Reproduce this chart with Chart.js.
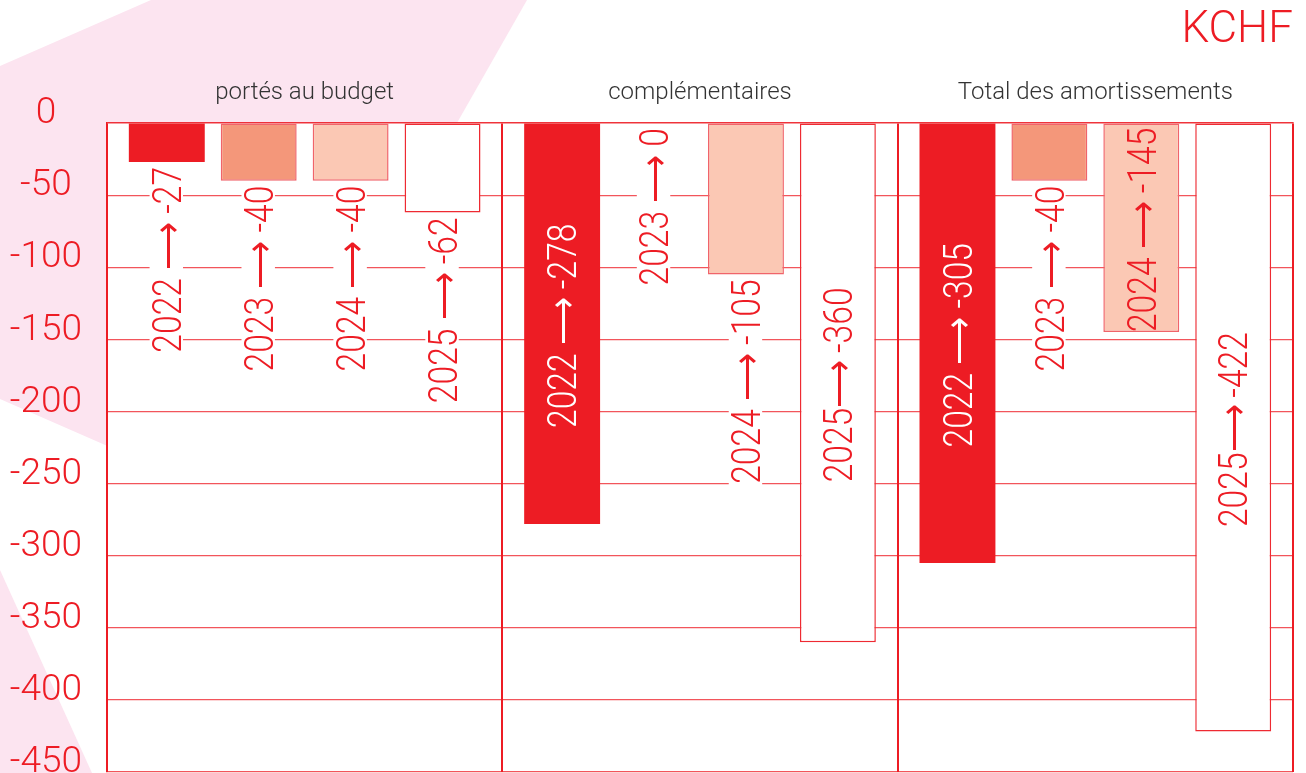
<!DOCTYPE html>
<html>
<head>
<meta charset="utf-8">
<script src="https://cdn.jsdelivr.net/npm/chart.js@4"></script>
<style>
html, body { margin: 0; padding: 0; background: #fff; }
</style>
</head>
<body>
<canvas id="myChart" width="1306" height="773"></canvas>
<script>
// amortissements par année, en KCHF

const groups = ['portés au budget', 'complémentaires', 'Total des amortissements']
const years = ['2022', '2023', '2024', '2025']
const values2022 = [-27, -278, -305]
const values2023 = [-40, 0, -40]
const values2024 = [-40, -105, -145]
const values2025 = [-62, -360, -422]
const yTicks = [0, -50, -100, -150, -200, -250, -300, -350, -400, -450]
const unit = 'KCHF'

const red = '#ED1C24'
const pink = '#FCE4F0'
const fontFamily = "Roboto, 'Liberation Sans', 'DejaVu Sans', sans-serif"

Chart.defaults.font.family = fontFamily

// pink shapes behind the chart, white plot area
const backgroundPlugin = {
    id: 'background',
    beforeDraw(chart) {
        const ctx = chart.ctx
        const area = chart.chartArea
        ctx.save()
        ctx.fillStyle = '#fff'
        ctx.fillRect(0, 0, chart.width, chart.height)
        ctx.fillStyle = pink
        ctx.beginPath()
        ctx.moveTo(0, 66)
        ctx.lineTo(151, 0)
        ctx.lineTo(527, 0)
        ctx.lineTo(240, 504)
        ctx.lineTo(0, 399)
        ctx.closePath()
        ctx.fill()
        ctx.beginPath()
        ctx.moveTo(0, 570)
        ctx.lineTo(92, 773)
        ctx.lineTo(0, 773)
        ctx.closePath()
        ctx.fill()
        ctx.fillStyle = '#fff'
        ctx.fillRect(area.left, area.top, area.right - area.left, area.bottom - area.top)
        ctx.restore()
    }
}

function labelSep(di, i) {
    // the 2025 labels of the last two groups are set tighter
    return (di === 3 && i > 0) ? '⟶\u2009' : ' ⟶ '
}

// vertical "year → value" labels, inside the bar when it is long enough
const barLabelPlugin = {
    id: 'barLabels',
    afterDatasetsDraw(chart) {
        const ctx = chart.ctx
        const size = 40
        const squeeze = 0.84
        const capH = size * 0.711
        ctx.save()
        ctx.font = `300 ${size}px ${fontFamily}`
        chart.data.datasets.forEach((ds, di) => {
            const meta = chart.getDatasetMeta(di)
            meta.data.forEach((bar, i) => {
                const value = ds.data[i]
                const text = years[di] + labelSep(di, i) + value
                const raw = ctx.measureText(text).width
                const len = raw * squeeze
                const barLen = bar.y - bar.base
                const inside = barLen > len * 0.9
                let endY
                if (inside) {
                    endY = (bar.base + bar.y) / 2 - len / 2 + 2
                } else {
                    endY = bar.y + 5
                }
                ctx.save()
                ctx.translate(bar.x + capH / 2, endY)
                ctx.rotate(-Math.PI / 2)
                ctx.scale(squeeze, 1)
                if (!inside) {
                    ctx.fillStyle = '#fff'
                    ctx.fillRect(-raw - 3, -capH - 3, raw + 5, capH + 5)
                }
                ctx.fillStyle = (inside && di === 0) ? '#fff' : red
                ctx.textAlign = 'right'
                ctx.textBaseline = 'alphabetic'
                ctx.fillText(text, 0, 0)
                ctx.restore()
            })
        })
        ctx.restore()
    }
}

const ctx = document.getElementById('myChart')
const myChart = new Chart(ctx, {
    type: 'bar',
    data: {
        labels: groups,
        datasets: [{
            label: years[0],
            data: values2022,
            backgroundColor: red,
            borderColor: red,
            borderWidth: 0
        }, {
            label: years[1],
            data: values2023,
            backgroundColor: '#F4977A',
            borderColor: '#F0646A',
            borderWidth: 1.5
        }, {
            label: years[2],
            data: values2024,
            backgroundColor: '#FBC8B4',
            borderColor: '#F0646A',
            borderWidth: 1.5
        }, {
            label: years[3],
            data: values2025,
            backgroundColor: '#FFFFFF',
            borderColor: '#EE2A32',
            borderWidth: 1.5
        }]
    },
    options: {
        responsive: false,
        animation: false,
        devicePixelRatio: 1,
        layout: {
            padding: { left: 0, right: 13, top: 0, bottom: 1 }
        },
        datasets: {
            bar: {
                barPercentage: 0.826,
                categoryPercentage: 0.93,
                borderSkipped: false
            }
        },
        scales: {
            x: {
                position: 'top',
                grid: {
                    offset: true,
                    color: red,
                    lineWidth: 2,
                    drawTicks: false
                },
                border: {
                    color: 'rgba(237, 28, 36, 0.6)',
                    width: 1.5
                },
                ticks: {
                    color: '#333333',
                    padding: 16,
                    font: { size: 24, weight: 300 }
                },
                afterFit(scale) {
                    scale.height = 65.2
                    scale.paddingLeft = 0
                    scale.paddingRight = 0
                }
            },
            y: {
                min: -450,
                max: 0,
                afterBuildTicks(scale) {
                    scale.ticks = yTicks.map(v => ({ value: v }))
                },
                grid: {
                    color: 'rgba(237, 28, 36, 0.75)',
                    lineWidth: 1.2,
                    drawTicks: false
                },
                border: {
                    color: red,
                    width: 1.5
                },
                ticks: {
                    color: red,
                    padding: 25,
                    crossAlign: 'center',
                    labelOffset: -9,
                    font: { size: 37, weight: 300 },
                    callback: (value) => String(value)
                },
                afterFit(scale) {
                    scale.width = 107
                    scale.paddingTop = 0
                    scale.paddingBottom = 0
                }
            }
        },
        plugins: {
            legend: { display: false },
            tooltip: { enabled: false },
            title: {
                display: true,
                text: unit,
                align: 'end',
                color: red,
                padding: { top: 5, bottom: 0 },
                font: { size: 44, weight: 300 }
            }
        }
    },
    plugins: [backgroundPlugin, barLabelPlugin]
})
</script>
</body>
</html>
